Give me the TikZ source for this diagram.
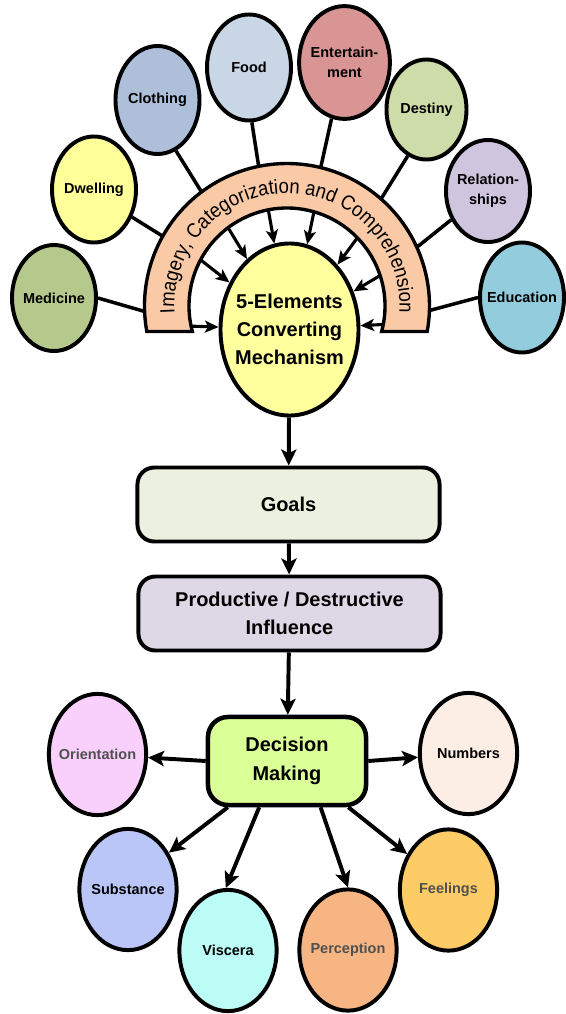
\documentclass[tikz,border=0pt]{standalone}
\usepackage{fontspec}
\setmainfont{Liberation Sans}
\newfontfamily\archfamily[FakeStretch=0.9]{Liberation Sans}
\usetikzlibrary{shapes.geometric,arrows.meta,decorations.text}

\definecolor{medicine}{RGB}{181,201,140}
\definecolor{dwelling}{RGB}{255,255,153}
\definecolor{clothing}{RGB}{173,191,217}
\definecolor{food}{RGB}{200,214,230}
\definecolor{entertain}{RGB}{217,149,148}
\definecolor{destiny}{RGB}{205,220,168}
\definecolor{relation}{RGB}{207,197,223}
\definecolor{education}{RGB}{147,205,221}
\definecolor{mechanism}{RGB}{255,255,158}
\definecolor{archfill}{RGB}{250,201,165}
\definecolor{goals}{RGB}{235,241,222}
\definecolor{influence}{RGB}{222,216,230}
\definecolor{decision}{RGB}{218,255,150}
\definecolor{orient}{RGB}{249,207,252}
\definecolor{numbers}{RGB}{252,238,228}
\definecolor{substance}{RGB}{185,198,247}
\definecolor{viscera}{RGB}{187,252,246}
\definecolor{perception}{RGB}{246,181,131}
\definecolor{feelings}{RGB}{254,204,102}
\definecolor{textgray}{RGB}{80,80,80}

\newcommand\archfont{\archfamily\fontsize{14.6}{16}\selectfont}

\begin{document}
\begin{tikzpicture}[x=0.025cm, y=0.025cm,
    topic/.style={ellipse, draw, line width=2.8pt, inner sep=0pt, inner xsep=-4pt, minimum width=2.1cm, minimum height=2.65cm, align=center, font=\fontsize{10.3}{14}\selectfont\bfseries},
    facet/.style={topic, minimum width=2.43cm, minimum height=3.03cm},
    stage/.style={rectangle, draw, rounded corners=0.42cm, line width=2.8pt, minimum width=7.55cm, minimum height=1.85cm, align=center, font=\fontsize{14.2}{20}\selectfont\bfseries},
    link/.style={line width=2.5pt},
    flow/.style={line width=2.8pt, -{Stealth[length=4mm, width=3.8mm, inset=0.9mm]}},
    feed/.style={line width=2.2pt, -{Stealth[length=3.4mm, width=3mm, inset=0.8mm]}}]

    \useasboundingbox (0,0) rectangle (566,-1014);

    % Topics around the arch
    \node[topic, fill=medicine] (med) at (54,-298) {Medicine};
    \node[topic, fill=dwelling] (dwe) at (94,-189.5) {Dwelling};
    \node[topic, fill=clothing, minimum height=2.7cm] (clo) at (157.5,-100) {Clothing};
    \node[topic, fill=food] (food) at (249,-67.5) {Food};
    \node[topic, fill=entertain, minimum width=2.27cm, minimum height=2.82cm] (ent) at (344.5,-62.5) {Entertain-\\ment};
    \node[topic, fill=destiny, minimum width=2cm, minimum height=2.5cm] (des) at (426.5,-109.5) {Destiny};
    \node[topic, fill=relation, minimum height=2.55cm] (rel) at (488,-191) {Relation-\\ships};
    \node[topic, fill=education, minimum height=2.75cm] (edu) at (522,-297.5) {Education};

    % Arch and where the topics meet it
    \coordinate (hub) at (287,-306);
    \coordinate (hMed) at ([shift={(182.4:141)}]hub);
    \coordinate (hDwe) at ([shift={(150.7:141)}]hub);
    \coordinate (hClo) at ([shift={(126.9:141)}]hub);
    \coordinate (hFood) at ([shift={(101.5:141)}]hub);
    \coordinate (hEnt) at ([shift={(76.3:141)}]hub);
    \coordinate (hDes) at ([shift={(48.6:141)}]hub);
    \coordinate (hRel) at ([shift={(24.2:141)}]hub);
    \coordinate (hEdu) at ([shift={(-2:141)}]hub);

    \draw[link] (med.east) -- (hMed);
    \draw[link] (dwe.-36) -- (hDwe);
    \draw[link] (clo.-70) -- (hClo);
    \draw[link] (food.-87) -- (hFood);
    \draw[link] (ent.-103) -- (hEnt);
    \draw[link] (des.-112) -- (hDes);
    \draw[link] (rel.-142) -- (hRel);
    \draw[link] (edu.west) -- (hEdu);

    \draw[line width=2.4pt, fill=archfill] ([shift={(190.3:142.5)}]hub) arc[start angle=190.3, end angle=-10.3, radius=142.5]
        -- ([shift={(-15.1:98)}]hub) arc[start angle=-15.1, end angle=195.1, radius=98] -- cycle;
    \path[decorate, decoration={text along path, text align=center,
        text={|\archfont|Imagery, Categorization and Comprehension}}]
        ([shift={(192:112.5)}]hub) arc[start angle=192, end angle=-12, radius=112.5];

    % Core
    \node[ellipse, draw, fill=mechanism, line width=2.8pt, inner sep=0pt, inner xsep=-5pt, minimum width=3.45cm, minimum height=4.3cm, align=center, font=\fontsize{14.2}{20}\selectfont\bfseries] (mech) at (289.5,-329.5) {5-Elements\\Converting\\Mechanism};

    \coordinate (f1) at ([shift={(192:97)}]hub);
    \coordinate (f2) at ([shift={(152:97)}]hub);
    \coordinate (f3) at ([shift={(127:97)}]hub);
    \coordinate (f4) at ([shift={(101:97)}]hub);
    \coordinate (f5) at ([shift={(74:97)}]hub);
    \coordinate (f6) at ([shift={(44:97)}]hub);
    \coordinate (f7) at ([shift={(18:97)}]hub);
    \coordinate (f8) at ([shift={(-11:97)}]hub);
    \draw[feed] (f1) -- (mech);
    \draw[feed] (f2) -- (mech);
    \draw[feed] (f3) -- (mech);
    \draw[feed] (f4) -- (mech);
    \draw[feed] (f5) -- (mech);
    \draw[feed] (f6) -- (mech);
    \draw[feed] (f7) -- (mech);
    \draw[feed] (f8) -- (mech);

    % Chain down to the decision
    \node[stage, fill=goals] (goals) at (288.5,-504.5) {Goals};
    \node[stage, fill=influence] (infl) at (289.5,-613.5) {Productive / Destructive\\Influence};
    \node[stage, fill=decision, minimum width=3.95cm, minimum height=2.2cm, rounded corners=0.5cm, line width=3.2pt, font=\fontsize{14.2}{21}\selectfont\bfseries] (dm) at (287,-761) {Decision\\Making};

    \draw[flow] (mech) -- (goals);
    \draw[flow] (goals) -- (infl);
    \draw[flow] (infl) -- (dm);

    % Outcomes
    \node[facet, fill=orient, text=textgray] (ori) at (97.5,-754.5) {Orientation};
    \node[facet, fill=substance] (sub) at (128,-889.5) {Substance};
    \node[facet, fill=viscera] (vis) at (228,-950.5) {Viscera};
    \node[facet, fill=perception, text=textgray] (per) at (348,-950) {Perception};
    \node[facet, fill=feelings, text=textgray] (fee) at (448.5,-890) {Feelings};
    \node[facet, fill=numbers] (num) at (468.5,-753.5) {Numbers};

    \draw[flow] (dm.west) -- (ori);
    \draw[flow] (dm.east) -- (num);
    \draw[flow] (dm.218) -- (sub.42);
    \draw[flow] (dm.239) -- (vis.92);
    \draw[flow] (dm.306) -- (per.90);
    \draw[flow] (dm.323) -- (fee.139);
\end{tikzpicture}
\end{document}
